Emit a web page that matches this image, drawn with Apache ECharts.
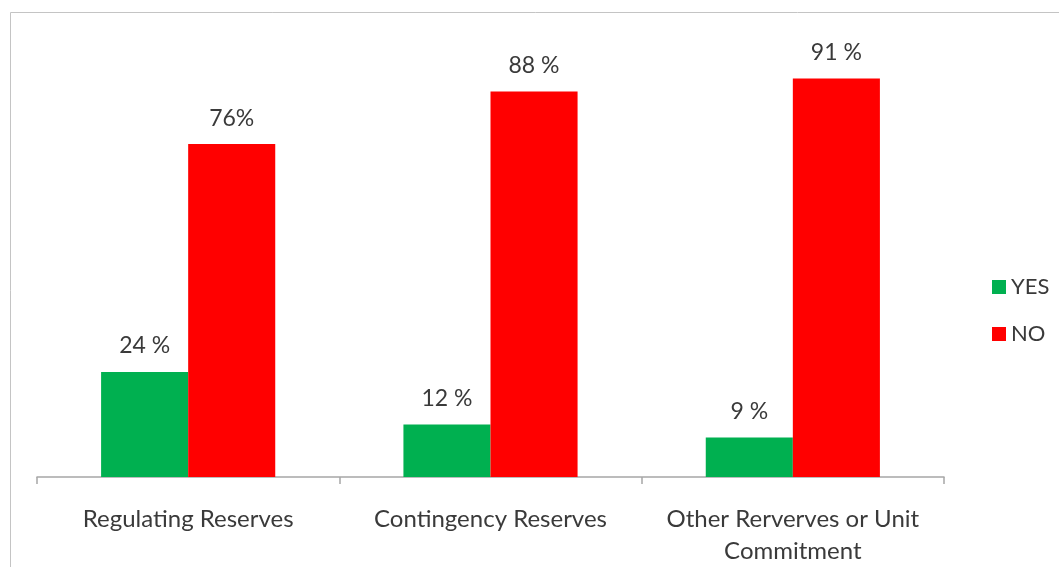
<!DOCTYPE html>
<html>
<head>
<meta charset="utf-8">
<script src="https://cdn.jsdelivr.net/npm/echarts@6/dist/echarts.min.js"></script>
<style>
html,body{margin:0;padding:0;background:#fff;}
#chart{width:1059px;height:567px;}
</style>
</head>
<body>
<div id="chart"></div>
<script>
var categories = ['Regulating Reserves', 'Contingency Reserves', 'Other Rerverves or Unit\nCommitment'];
var seriesNames = ['YES', 'NO'];
var yesValues = [24, 12, 9];
var noValues = [76, 88, 91];
var yesLabels = ['24 %', '12 %', '9 %'];
var noLabels = ['76%', '88 %', '91 %'];

var chart = echarts.init(document.getElementById('chart'));
var font = 'Lato, "Open Sans", sans-serif';
var textColor = '#3a3a3a';

function labelFor(arr) {
  return {
    show: true,
    position: 'top',
    distance: 14,
    fontFamily: font,
    fontSize: 23,
    lineHeight: 24,
    color: textColor,
    formatter: function (p) { return arr[p.dataIndex]; }
  };
}

chart.setOption({
  animation: false,
  backgroundColor: '#ffffff',
  graphic: [{
    type: 'rect',
    left: 8,
    top: 10,
    shape: { x: 0, y: 0, width: 1100, height: 620 },
    style: { fill: 'none', stroke: '#c4c4c4', lineWidth: 1 },
    silent: true
  }],
  grid: { left: 37, right: 115, top: 39, bottom: 86, containLabel: false },
  legend: {
    orient: 'vertical',
    left: 987,
    top: 271,
    itemWidth: 14,
    itemHeight: 14,
    itemGap: 25,
    icon: 'rect',
    textStyle: { fontFamily: font, fontSize: 22, lineHeight: 22, color: textColor },
    data: seriesNames
  },
  xAxis: {
    type: 'category',
    data: categories,
    axisLine: { lineStyle: { color: '#a6a6a6', width: 1.5 } },
    axisTick: { show: true, length: 7, lineStyle: { color: '#a6a6a6', width: 1.5 } },
    axisLabel: {
      interval: 0,
      margin: 26,
      fontFamily: font,
      fontSize: 24,
      lineHeight: 32,
      color: textColor
    }
  },
  yAxis: {
    type: 'value',
    min: 0,
    max: 100,
    show: false,
    splitLine: { show: false }
  },
  series: [
    {
      name: seriesNames[0],
      type: 'bar',
      data: yesValues,
      barGap: '0%',
      barCategoryGap: '42.4%',
      itemStyle: { color: '#00B050' },
      label: labelFor(yesLabels)
    },
    {
      name: seriesNames[1],
      type: 'bar',
      data: noValues,
      barGap: '0%',
      barCategoryGap: '42.4%',
      itemStyle: { color: '#FF0000' },
      label: labelFor(noLabels)
    }
  ]
});
</script>
</body>
</html>
